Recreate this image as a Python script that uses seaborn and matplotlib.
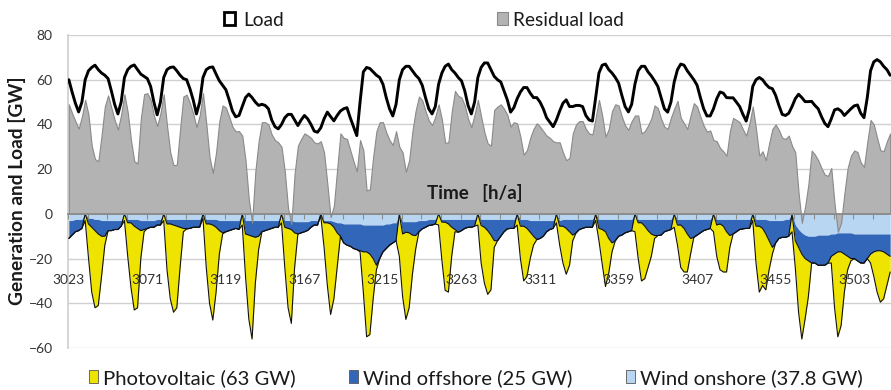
import numpy as np
import pandas as pd
import matplotlib
matplotlib.use("Agg")
import matplotlib.pyplot as plt
from matplotlib.patches import Patch
import seaborn as sns

# Two-hourly values, hours of the year 3023 ... 3525
hours = np.arange(3023, 3526, 2)

load = [
    60, 54.5, 49.5,
    45.6, 50, 60, 64, 65.5, 66.5, 64.5, 63, 62, 60.5, 55, 49,
    44.7, 50, 61, 64.5, 66, 66.6, 64.5, 62.5, 61.5, 60.5, 57, 50,
    44.3, 50, 61, 64.5, 65.5, 65.7, 64, 62, 60.5, 60, 56, 51,
    44.7, 50, 61, 64.5, 65.5, 65.7, 62.5, 59.5, 57.5, 55.5, 51, 46,
    43.4, 44, 48, 52, 53.6, 52, 50, 48.5, 49, 48.5, 47, 42,
    39, 38, 40, 43, 44.5, 44.5, 42, 39.5, 42, 44, 42.5, 40,
    37, 36.5, 38.5, 42.5, 45.5, 43.5, 41.6, 44, 46, 47, 47.5, 43,
    39, 35, 50, 63.5, 65.5, 65, 63.5, 62, 61, 58, 52, 47,
    43.8, 49, 60, 64.5, 66, 66, 64, 62, 60.5, 57.5, 52, 47,
    44.7, 48, 58, 63, 66, 67, 64.5, 63, 61, 59.5, 55, 48.5,
    44.7, 50, 61, 65.5, 67.5, 67.5, 64.5, 61.5, 60, 59, 55, 51,
    45.5, 47.5, 51.5, 54.5, 56.5, 56.5, 54, 52, 52, 50, 47, 43,
    41, 39, 42, 46, 49.5, 51, 48, 48, 48.5, 48.5, 48, 44,
    42, 41.5, 52, 63, 66.5, 67, 64.5, 63, 61, 58.5, 53, 48,
    45.6, 49, 58, 64, 66, 66, 63.5, 61.7, 59.5, 57, 52, 47,
    45.5, 50, 59, 64.5, 67, 66.5, 64, 62, 60, 57.5, 52, 47,
    43.8, 43.8, 47, 51.5, 54.5, 54, 52, 51.9, 51.9, 50, 48, 44.5,
    41.5, 47, 57, 60, 61, 60, 58, 56.5, 56, 53, 48.5, 44.5,
    44, 45, 48, 51.5, 53.5, 52, 50.2, 50.2, 50.3, 48.5, 47, 43.5,
    40.5, 39, 42.5, 46.5, 47, 46, 44, 45.5, 47, 48.3, 48.7, 45,
    43, 52, 64, 68, 69, 68, 66, 64.5, 62,
]

photovoltaic = [
    0, 0, 0,
    0, 0, 3, 15, 29, 34.5, 32, 18, 4, 0, 0, 0,
    0, 0, 3, 15, 29, 37.5, 35.5, 12.5, 1, 0, 0, 0,
    0, 0, 3, 20.5, 33.5, 39, 36.5, 18, 1.5, 0, 0, 0,
    0, 0, 2, 19.5, 35.5, 42.5, 29, 10.5, 0.5, 0, 0, 0,
    0, 0, 5, 19, 37.5, 46, 20.5, 6, 0, 0, 0, 0,
    0, 0, 4, 18, 35.5, 42, 15.5, 0, 0, 0, 0, 0,
    0, 0, 1, 11, 28, 40.5, 32, 15.5, 0, 0, 0, 0,
    0, 0, 0.5, 18, 38, 36, 18, 2, 0, 0, 0, 0,
    0, 0, 19, 28, 39, 33.5, 17.5, 6, 0, 0, 0, 0,
    0, 0, 5, 17, 30.5, 30.5, 13, 1, 0, 0, 0, 0,
    0, 0, 5, 16.8, 25, 28.5, 24.5, 3, 0, 0, 0, 0,
    0, 0, 5, 14.5, 24.5, 21.5, 11.8, 4, 0, 0, 0, 0,
    0, 0, 4, 8.5, 16.5, 20.5, 15, 2.5, 0, 0, 0, 0,
    0, 0, 3, 5.5, 15.5, 24.5, 15.5, 4, 0, 0, 0, 0,
    0, 0, 8, 16, 26, 23.5, 16.5, 10, 1.3, 0, 0, 0,
    0, 0, 6, 9, 19, 19.5, 17, 7, 0, 0, 0, 0,
    0, 0, 8, 14, 20.5, 20.5, 18, 5.3, 0, 0, 0, 0,
    0, 0, 3, 16.5, 29.5, 25.5, 25, 13, 3, 0, 0, 0,
    0, 0, 8, 12, 29, 38, 27, 16, 0, 0, 0, 0,
    0, 0, 3, 24, 38, 33, 17, 6, 1, 0, 0, 0,
    0, 0, 4, 11, 18.5, 23, 21, 14, 7,
]

wind_offshore = [
    8, 6.5, 5.5,
    5, 4, 3.5, 2.5, 4, 5, 6.5, 7, 7, 4.5, 4.5, 4,
    4, 2.5, 2, 1.5, 1.5, 3, 4, 4.5, 4, 3.5, 3, 3,
    2.5, 2.5, 2, 2, 2, 2.5, 3, 3.5, 4, 4.2, 4, 3.5,
    3.5, 3.4, 2.5, 2, 2, 2.5, 3.5, 4.5, 5.5, 5, 4.5, 4,
    3.5, 4, 5, 6, 6.5, 7, 7.5, 7, 5, 4.5, 4, 3.5,
    3, 3, 3, 3, 3.5, 4, 5, 5.5, 5, 4.5, 3.9, 3,
    2, 2, 2, 1, 1, 1.5, 2.5, 4.5, 6, 8.5, 9.5, 10,
    11, 11.5, 12, 12, 12, 13, 15, 18, 15, 12, 11, 9.5,
    9, 8, 7, 5.5, 4.7, 5, 6, 6.2, 5, 3.7, 3, 2.7,
    2.5, 2, 1.5, 1.2, 1.2, 2, 3.5, 4.5, 5.7, 5, 4, 3.5,
    3.5, 3, 2.5, 2.7, 3.5, 5, 7, 9.5, 9.5, 7.5, 5.5, 4.2,
    4, 4, 3.5, 3, 3, 4, 5.2, 7, 8.5, 8, 7, 5,
    4, 3.5, 3, 2.5, 3, 4, 5.5, 7, 6, 4.5, 4, 3.5,
    3.5, 3.5, 3.5, 4, 4.5, 5.5, 8.5, 10.5, 9.5, 7.5, 7, 6,
    5.5, 5, 3.5, 1.5, 1.5, 3, 5, 6.5, 7.2, 7.2, 7, 5.5,
    5, 4.5, 3.5, 2.5, 2.5, 4, 6.5, 8.5, 8, 7, 6, 5,
    4.5, 4, 3.5, 2.5, 2, 3, 5.5, 7.2, 6.5, 5.5, 4.5, 4.2,
    4, 4, 3.5, 3, 3, 4, 6.5, 9, 12, 10, 8, 7.5,
    8, 7.5, 6.5, 7, 8, 9.5, 10.5, 11, 12, 12, 13.5, 13.5,
    13.5, 12.5, 10, 9, 8.5, 8.5, 9.5, 10.5, 11.5, 11, 12, 13,
    13, 11, 9, 8, 7.5, 7.5, 8, 9, 10,
]

wind_onshore = [
    3, 3, 2.5,
    2.5, 2.5, 2.5, 2, 2, 2.5, 2.5, 3, 3, 3, 3, 3,
    3, 3, 2.5, 2.5, 2.5, 2.5, 2.5, 3, 3, 3, 3, 3,
    2.5, 2.5, 2.5, 2.5, 2.5, 2.5, 2.5, 2.5, 2.5, 2.5, 2.5, 2.5,
    2.5, 2.5, 2.5, 2.5, 2.5, 2.5, 2.5, 3, 3, 3, 3, 3,
    3, 3, 3, 3, 3, 3, 3, 3, 3, 3, 3, 3,
    3, 3, 3, 3, 3, 3, 3.5, 3.5, 3.5, 3.5, 3.5, 3,
    3, 3, 3, 3, 3, 3, 3.5, 4, 4, 4.5, 4.5, 4.5,
    4.5, 4.5, 4.5, 5, 5, 5, 5, 5, 5, 5, 4.5, 4.5,
    4, 4, 4, 3.5, 3.5, 3.5, 3.5, 3.5, 3, 3, 3, 2.5,
    2.5, 2.5, 2.5, 2.5, 2.5, 2.5, 2.5, 2.5, 2.5, 2.5, 2.5, 2.5,
    2.5, 2.5, 2.5, 2.5, 2.5, 2.5, 2.5, 2.5, 2.5, 2.5, 2.5, 2.5,
    2.5, 2.5, 2.5, 2.5, 2.5, 2.5, 3, 3, 3, 3, 3, 3,
    3, 3, 3, 3, 2.5, 2.5, 2.5, 2.5, 2.5, 2.5, 2.5, 2.5,
    2.5, 2.5, 2.5, 2.5, 2.5, 2.5, 2.5, 2.5, 2.5, 2.5, 2.5, 2.5,
    2.5, 2.5, 2.5, 2.5, 2.5, 2.5, 2.5, 2.5, 2.5, 2.5, 2.5, 2.5,
    2.5, 2.5, 2.5, 2.5, 2.5, 2.5, 2.5, 2.5, 2.5, 2.5, 2.5, 2.5,
    2.5, 2.5, 2.5, 2.5, 2.5, 2.5, 2.5, 2.5, 2.5, 2.5, 2.5, 2.5,
    2.5, 2.5, 2.5, 2.5, 2.5, 2.5, 2.5, 3, 3, 3, 3, 3,
    2.5, 2.5, 3, 5, 7, 8.5, 9.5, 10, 10, 10, 9.5, 9.5,
    9.5, 9.5, 9, 9, 8.5, 8.5, 8.5, 8.5, 8.5, 9, 9, 9,
    9, 9, 9, 9, 9, 9, 9, 9, 9,
]

# Hours at which the wind cells of the stacked chart are empty
wind_gap_hours = [3033, 3057, 3081, 3105, 3129, 3153, 3177,
                  3225, 3249, 3273, 3297, 3321, 3345, 3369, 3393,
                  3417, 3441, 3465]

tick_hours = list(range(3023, 3504, 48))

df = pd.DataFrame({
    "hour": hours,
    "load": load,
    "pv": photovoltaic,
    "offshore": wind_offshore,
    "onshore": wind_onshore,
})
df["residual"] = df["load"] - df["pv"] - df["offshore"] - df["onshore"]
gap = df["hour"].isin(wind_gap_hours)
on_drawn = df["onshore"].where(~gap, 0.0)
off_drawn = df["offshore"].where(~gap, 0.0)
lvl_on = -on_drawn
lvl_off = lvl_on - off_drawn
lvl_pv = lvl_off - df["pv"]

C_YELLOW = "#EFE300"
C_DARK = "#3266B8"
C_LIGHT = "#B8D6F1"
C_GRAY = "#B3B3B3"

sns.set_theme(style="white")
plt.rcParams["font.family"] = ["Lato", "DejaVu Sans"]
plt.rcParams["text.color"] = "#1a1a1a"

W, H = 891, 390
fig = plt.figure(figsize=(W / 100, H / 100), dpi=100)
ax = fig.add_axes([68 / W, 1 - 348 / H, 1 - 68 / W, (348 - 35) / H])

# horizontal gridlines behind everything
for yv in range(-60, 81, 20):
    if yv != 0:
        ax.axhline(yv, color="#d0d0d0", lw=1.0, zorder=0.5)

x = df["hour"].to_numpy()
ax.fill_between(x, 0, lvl_on, color=C_LIGHT, lw=0, zorder=2)
ax.fill_between(x, lvl_on, lvl_off, color=C_DARK, lw=0, zorder=2)
ax.fill_between(x, lvl_off, lvl_pv, color=C_YELLOW, lw=0, zorder=2)
ax.plot(x, lvl_off, color="#111111", lw=0.8, zorder=3)
ax.plot(x, lvl_pv, color="#111111", lw=0.8, zorder=3)

ax.fill_between(x, 0, df["residual"], color=C_GRAY, edgecolor="#8a8a8a",
                lw=0.8, zorder=4)
sns.lineplot(data=df, x="hour", y="load", color="black", lw=2.1,
             ax=ax, zorder=6)

ax.set_xlim(3022.5, 3525.5)
ax.set_ylim(-60, 80)
ax.set_yticks(range(-60, 81, 20))
ax.grid(False)
ax.set_axisbelow(False)
ax.xaxis.set_zorder(8)

for s in ("top", "right"):
    ax.spines[s].set_visible(False)
ax.spines["left"].set_color("#d0d0d0")
ax.spines["bottom"].set_position(("data", 0))
ax.spines["bottom"].set_color("#8c8c8c")
ax.spines["bottom"].set_linewidth(1.3)
ax.spines["bottom"].set_zorder(5)

ax.set_xticks(tick_hours)
ax.set_xticklabels([str(h) for h in tick_hours])
ax.set_xticks(np.arange(3022.5, 3526, 12), minor=True)
ax.tick_params(axis="x", which="major", length=0, pad=43, labelsize=10,
               labelcolor="#333333")
ax.tick_params(axis="x", which="minor", length=3.5, width=0.8,
               color="#8c8c8c", direction="out", bottom=True)
ax.tick_params(axis="y", length=0, pad=11, labelsize=10, labelcolor="#333333")
ax.set_xlabel("")
ax.set_ylabel("")

ax.text(3271, 9.3, "Time   [h/a]", ha="center", va="center",
        fontsize=13.5, fontweight="bold", zorder=7)
fig.text(17 / W, 1 - 191 / H, "Generation and Load [GW]", rotation=90,
         ha="center", va="center", fontsize=13.8, fontweight="bold")


def legend_entry(handle, x_px, y_px, size, hlen, hgt, tpad):
    fig.legend(handles=[handle], loc="center left",
               bbox_to_anchor=(x_px / W, 1 - y_px / H), frameon=False,
               fontsize=size, handlelength=hlen, handleheight=hgt,
               handletextpad=tpad, borderpad=0, borderaxespad=0)


legend_entry(Patch(facecolor="white", edgecolor="black", lw=2, label="Load"),
             224, 20, 13.8, 0.57, 0.68, 0.42)
legend_entry(Patch(facecolor=C_GRAY, edgecolor="#8a8a8a", lw=0.8,
                   label="Residual load"), 497, 20, 13.8, 0.57, 0.68, 0.26)

legend_entry(Patch(facecolor=C_YELLOW, edgecolor="#555555", lw=0.6,
                   label="Photovoltaic (63 GW)"), 89, 378, 14.6, 0.45, 0.6, 0.25)
legend_entry(Patch(facecolor=C_DARK, edgecolor="#555555", lw=0.6,
                   label="Wind offshore (25 GW)"), 349, 378, 14.6, 0.45, 0.6, 0.25)
legend_entry(Patch(facecolor=C_LIGHT, edgecolor="#555555", lw=0.6,
                   label="Wind onshore (37.8 GW)"), 626, 378, 14.6, 0.45, 0.6, 0.25)

fig.savefig("out.png", dpi=100)
